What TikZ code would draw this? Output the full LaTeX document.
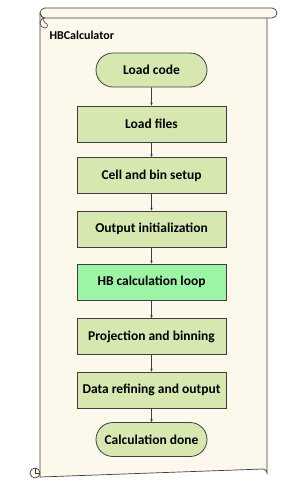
\documentclass[tikz,border=0pt]{standalone}
\usepackage{fontspec}
\setmainfont{Carlito}
\usetikzlibrary{arrows.meta,shapes.misc}
\definecolor{paper}{HTML}{FDF8EC}
\definecolor{boxgreen}{HTML}{D6E8B0}
\definecolor{loopgreen}{HTML}{9CF5A4}
\definecolor{edge}{HTML}{3F3F3F}
\tikzset{
  stepbox/.style={draw=edge, line width=0.8pt, fill=boxgreen, minimum width=149pt, minimum height=36pt, font=\bfseries\fontsize{13.5}{16}\selectfont, inner sep=0pt},
  termbox/.style={stepbox, rounded rectangle, minimum width=111pt, minimum height=34pt},
  flow/.style={draw=edge, line width=0.6pt, -{Stealth[length=3pt,width=2.5pt]}}
}
\begin{document}
\begin{tikzpicture}[x=1pt,y=-1pt]
\useasboundingbox (0,0) rectangle (283,490);
% scroll body
\draw[edge, line width=0.7pt, fill=paper]
  (40,13) -- (267,13) -- (267,473) arc[start angle=0,end angle=-90,radius=4] -- (40,477) -- cycle;
% top roll
\draw[edge, line width=0.7pt, fill=paper, rounded corners=5pt] (40,8) rectangle (277,18);
\draw[edge, line width=0.6pt] (45,18) arc[start angle=270,end angle=90,radius=5] arc[start angle=90,end angle=-90,radius=2.5] -- (40,13);
% bottom-left curl
\draw[edge, line width=0.7pt, fill=paper] (35,473) circle[radius=5];
\draw[edge, line width=0.6pt] (35,468) -- (35,473) -- (40,473);
\node[anchor=west, font=\bfseries\fontsize{12}{14}\selectfont] (title) at (46,35) {HBCalculator};
\node[termbox] (load) at (151.5,70) {Load code};
\node[stepbox] (files) at (151.5,124) {Load files};
\node[stepbox] (cell) at (151.5,175.5) {Cell and bin setup};
\node[stepbox] (out) at (151.5,229) {Output initialization};
\node[stepbox, fill=loopgreen] (loop) at (151.5,282) {HB calculation loop};
\node[stepbox] (proj) at (151.5,336.5) {Projection and binning};
\node[stepbox] (refine) at (151.5,390) {Data refining and output};
\node[termbox] (done) at (151.5,439.5) {Calculation done};
\draw[flow] (load) -- (files);
\draw[flow] (files) -- (cell);
\draw[flow] (cell) -- (out);
\draw[flow] (out) -- (loop);
\draw[flow] (loop) -- (proj);
\draw[flow] (proj) -- (refine);
\draw[flow] (refine) -- (done);
\end{tikzpicture}
\end{document}
